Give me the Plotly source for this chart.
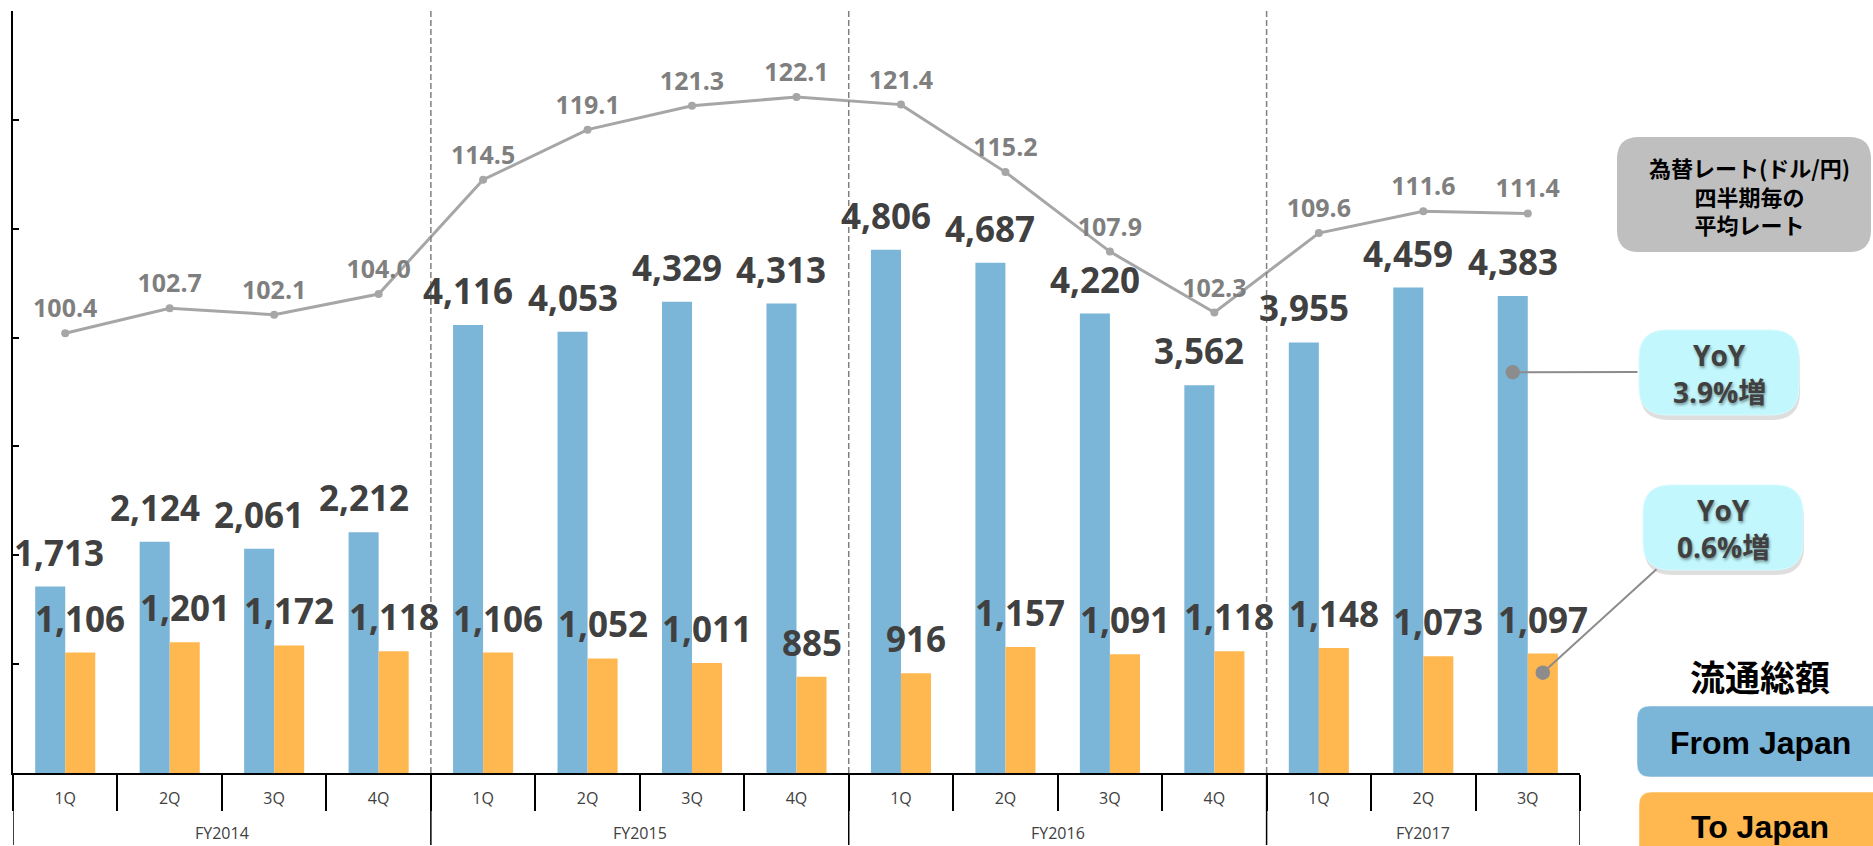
import plotly.graph_objects as go

# ---- data -------------------------------------------------------------
years = ["FY2014", "FY2015", "FY2016", "FY2017"]
quarters_per_year = [4, 4, 4, 3]
quarters = ["1Q", "2Q", "3Q", "4Q",
            "1Q", "2Q", "3Q", "4Q",
            "1Q", "2Q", "3Q", "4Q",
            "1Q", "2Q", "3Q"]
from_japan = [1713, 2124, 2061, 2212, 4116, 4053, 4329, 4313,
              4806, 4687, 4220, 3562, 3955, 4459, 4383]
to_japan = [1106, 1201, 1172, 1118, 1106, 1052, 1011, 885,
            916, 1157, 1091, 1118, 1148, 1073, 1097]
usd_jpy = [100.4, 102.7, 102.1, 104.0, 114.5, 119.1, 121.3, 122.1,
           121.4, 115.2, 107.9, 102.3, 109.6, 111.6, 111.4]
yoy_from = "3.9%増"
yoy_to = "0.6%増"
rate_note = ["為替レート(ドル/円)", "四半期毎の", "平均レート"]
legend_title = "流通総額"

# ---- styling ----------------------------------------------------------
BLUE = "#7BB5D8"
ORANGE = "#FFB74F"
LINE_GREY = "#A6A6A6"
LABEL_DARK = "#404040"
LABEL_GREY = "#7F7F7F"
BARGAP = 0.425
NUM_FONT = "Open Sans, Noto Sans CJK JP, sans-serif"
JP_FONT = "Noto Sans CJK JP, sans-serif"

WIDTH, HEIGHT = 1873, 846
ML, MR, MT, MB = 13, 293, 11, 73
PW = WIDTH - ML - MR
PH = HEIGHT - MT - MB
N = len(quarters)
Y_MAX = 7000


def fx(X):
    """page pixel -> paper x"""
    return (X - ML) / PW


def fy(Y):
    """page pixel -> paper y"""
    return (HEIGHT - MB - Y) / PH


def dx(X):
    """page pixel -> x data coordinate"""
    return (X - ML) / PW * N - 0.5


def dy(Y):
    """page pixel -> primary y data coordinate"""
    return (HEIGHT - MB - Y) / PH * Y_MAX


def rrect(x0, y0, x1, y1, r):
    """rounded rectangle path (page pixels) in paper coordinates"""
    pts = [
        ("M", [(x0 + r, y0)]),
        ("L", [(x1 - r, y0)]),
        ("Q", [(x1, y0), (x1, y0 + r)]),
        ("L", [(x1, y1 - r)]),
        ("Q", [(x1, y1), (x1 - r, y1)]),
        ("L", [(x0 + r, y1)]),
        ("Q", [(x0, y1), (x0, y1 - r)]),
        ("L", [(x0, y0 + r)]),
        ("Q", [(x0, y0), (x0 + r, y0)]),
    ]
    out = []
    for cmd, p in pts:
        out.append(cmd + " ".join(f"{fx(a):.5f},{fy(b):.5f}" for a, b in p))
    return " ".join(out) + " Z"


def paper_text(X, Y, text, font):
    return dict(x=fx(X), y=fy(Y), xref="paper", yref="paper", text=text,
                showarrow=False, xanchor="center", yanchor="middle", font=font)


x = list(range(N))
bar_w = (1 - BARGAP) / 2

fig = go.Figure()

fig.add_trace(go.Bar(
    x=x, y=from_japan, name="From Japan",
    marker=dict(color=BLUE, line=dict(width=0)), hoverinfo="skip",
))
fig.add_trace(go.Bar(
    x=x, y=to_japan, name="To Japan",
    marker=dict(color=ORANGE, line=dict(width=0)), hoverinfo="skip",
))

# exchange-rate line on the hidden secondary axis
fig.add_trace(go.Scatter(
    x=x, y=usd_jpy, yaxis="y2", name="USD/JPY",
    mode="lines+markers",
    line=dict(color=LINE_GREY, width=3),
    marker=dict(size=8, color=LINE_GREY),
    hoverinfo="skip",
))
fig.add_trace(go.Scatter(
    x=x, y=usd_jpy, yaxis="y2", showlegend=False,
    mode="markers+text",
    marker=dict(size=14, color="rgba(0,0,0,0)"),
    text=[f"{v:.1f}" for v in usd_jpy], textposition="top center",
    textfont=dict(family=NUM_FONT, size=25, color=LABEL_GREY, weight="bold"),
    hoverinfo="skip",
))

shapes = []
annotations = []

# value labels above each bar (the first one is nudged to stay off the axis)
bar_font = dict(family=NUM_FONT, size=35, color=LABEL_DARK, weight="bold")
for series, off in ((from_japan, -bar_w / 2), (to_japan, bar_w / 2)):
    for i, v in zip(x, series):
        nudge = 9 if (i == 0 and off < 0) else 0
        annotations.append(dict(x=i + off, y=v, xref="x", yref="y",
                                text=f"{v:,}", showarrow=False,
                                xanchor="center", yanchor="bottom", yshift=9,
                                xshift=nudge, font=bar_font))

# ---- fiscal-year grouping -------------------------------------------
starts, ends = [], []
pos = 0
for n in quarters_per_year:
    starts.append(pos)
    ends.append(pos + n - 1)
    pos += n

# dashed separators inside the plot between fiscal years
for s in starts[1:]:
    shapes.append(dict(type="line", xref="x", yref="paper",
                       x0=s - 0.5, x1=s - 0.5, y0=0, y1=1,
                       line=dict(color="#808080", width=1.5, dash="6px,3px"),
                       layer="above"))

# fiscal-year dividers below the axis
for b in [starts[0] - 0.5] + [e + 0.5 for e in ends]:
    shapes.append(dict(type="line", xref="x", yref="paper",
                       x0=b, x1=b, y0=0, y1=fy(845),
                       line=dict(color="black", width=1.5)))

for yr, s, e in zip(years, starts, ends):
    annotations.append(dict(x=(s + e) / 2, y=fy(833), xref="x", yref="paper",
                            text=yr, showarrow=False, xanchor="center",
                            yanchor="middle",
                            font=dict(family=NUM_FONT, size=16, color=LABEL_DARK)))

# ---- side panel: rate note, YoY callouts, legend boxes --------------
shapes.append(dict(type="path", xref="paper", yref="paper",
                   path=rrect(1617, 137, 1871, 252, 22),
                   fillcolor="#BFBFBF", line=dict(width=0), layer="above"))
annotations.append(paper_text(1749, 196, "<br>".join(rate_note),
                              dict(family=JP_FONT, size=22, color="black", weight="bold")))

callouts = [
    (yoy_from, (1639, 330, 1799, 415), 1719, -bar_w / 2, from_japan[-1], (1639, 372)),
    (yoy_to, (1643, 485, 1803, 570), 1723, bar_w / 2, to_japan[-1], (1658, 568)),
]
yoy_font = dict(family=NUM_FONT, size=28, color=LABEL_DARK, weight="bold",
                shadow="1px 2px 3px rgba(0,0,0,0.4)")
for txt, (bx0, by0, bx1, by1), cx, off, val, tail in callouts:
    shapes.append(dict(type="path", xref="paper", yref="paper",
                       path=rrect(bx0 + 1, by0 + 5, bx1 + 1, by1 + 5, 28),
                       fillcolor="rgba(0,0,0,0.13)", line=dict(width=0), layer="above"))
    shapes.append(dict(type="path", xref="paper", yref="paper",
                       path=rrect(bx0, by0, bx1, by1, 28),
                       fillcolor="#C2F7FD", line=dict(color="#D8FBFF", width=1),
                       layer="above"))
    annotations.append(paper_text(cx, by0 + 25, "YoY", yoy_font))
    annotations.append(paper_text(cx, by0 + 62, txt, yoy_font))
    # pointer from the callout to the latest quarter's bar
    annotations.append(dict(x=N - 1 + off, y=0.84 * val, xref="x", yref="y",
                            ax=dx(tail[0]), ay=dy(tail[1]), axref="x", ayref="y",
                            text="", showarrow=True, arrowhead=6, arrowside="end",
                            arrowsize=1.8, arrowwidth=2, arrowcolor="#8C8C8C",
                            standoff=0, startstandoff=0))

annotations.append(paper_text(1760, 675, legend_title,
                              dict(family=JP_FONT, size=35, color="black", weight="bold")))
legend_boxes = [("From Japan", BLUE, (1637, 706, 1890, 777), 743),
                ("To Japan", ORANGE, (1639, 792, 1890, 880), 827)]
for name, col, (bx0, by0, bx1, by1), ty in legend_boxes:
    shapes.append(dict(type="path", xref="paper", yref="paper",
                       path=rrect(bx0, by0, bx1, by1, 13),
                       fillcolor=col, line=dict(color="rgba(255,255,255,0.5)", width=1),
                       layer="above"))
    annotations.append(paper_text(1760, ty, name,
                                  dict(family="Liberation Sans, Arial, sans-serif",
                                       size=32, color="black", weight="bold")))

fig.update_layout(
    width=WIDTH, height=HEIGHT,
    margin=dict(l=ML, r=MR, t=MT, b=MB),
    paper_bgcolor="white", plot_bgcolor="white",
    barmode="group", bargap=BARGAP, bargroupgap=0,
    showlegend=False,
    xaxis=dict(
        range=[-0.5, N - 0.5], tickmode="array", tickvals=x, ticktext=quarters,
        ticks="", showline=True, linecolor="black", linewidth=1.5,
        tickfont=dict(family=NUM_FONT, size=16, color=LABEL_DARK),
        ticklabelstandoff=10,
        minor=dict(tickmode="array", tickvals=[i - 0.5 for i in range(N + 1)],
                   ticks="outside", ticklen=36, tickwidth=1.5, tickcolor="black"),
        showgrid=False, zeroline=False, fixedrange=True,
    ),
    yaxis=dict(
        range=[0, Y_MAX], tick0=0, dtick=1000, ticks="inside", ticklen=6,
        tickwidth=1.5, tickcolor="black", showline=True, linecolor="black",
        linewidth=1.5, showticklabels=False, showgrid=False, zeroline=False,
    ),
    yaxis2=dict(range=[60, 130], overlaying="y", visible=False),
    shapes=shapes,
    annotations=annotations,
)

fig.write_html("out.html")
